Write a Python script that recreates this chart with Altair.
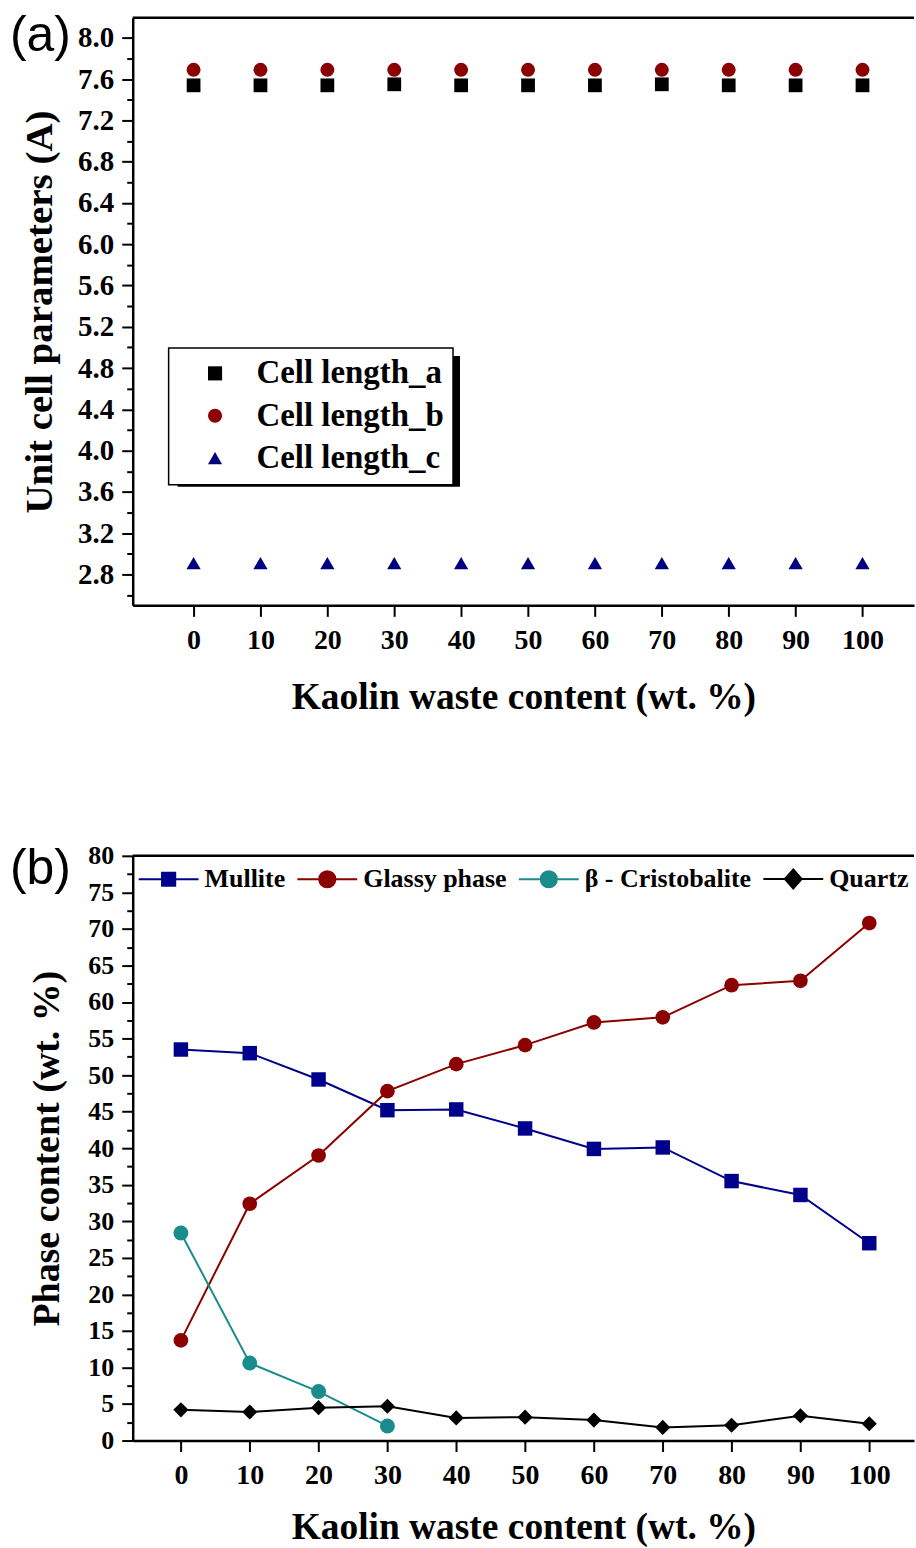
import altair as alt
import pandas as pd

# ---------------- data ----------------
content = [0, 10, 20, 30, 40, 50, 60, 70, 80, 90, 100]

# panel (a): unit cell parameters (A)
cell_a = [7.54, 7.54, 7.54, 7.55, 7.54, 7.54, 7.54, 7.55, 7.54, 7.54, 7.54]
cell_b = [7.69, 7.69, 7.69, 7.69, 7.69, 7.69, 7.69, 7.69, 7.69, 7.69, 7.69]
cell_c = [2.91, 2.91, 2.91, 2.91, 2.91, 2.91, 2.91, 2.91, 2.91, 2.91, 2.91]
top_names = ["Cell length_a", "Cell length_b", "Cell length_c"]
top_colors = ["#000000", "#8b0000", "#00007f"]
top_shapes = ["square", "circle", "triangle-up"]
top_sizes = [190, 230, 300]

# panel (b): phase content (wt. %)
mullite = [53.5, 53.0, 49.4, 45.2, 45.3, 42.7, 39.9, 40.1, 35.5, 33.6, 27.0]
glassy = [13.7, 32.4, 39.0, 47.8, 51.5, 54.1, 57.2, 57.9, 62.3, 62.9, 70.8]
cristo_x = [0, 10, 20, 30]
cristo = [28.4, 10.6, 6.7, 2.0]
quartz = [4.2, 3.9, 4.5, 4.7, 3.1, 3.2, 2.8, 1.8, 2.1, 3.4, 2.3]
bot_names = ["Mullite", "Glassy phase", "\u03b2 - Cristobalite", "Quartz"]
bot_colors = ["#00008b", "#8b0000", "#1a8c8c", "#000000"]
bot_shapes = ["square", "circle", "circle", "diamond"]
bot_sizes = [200, 320, 290, 540]

top_ticks = [round(2.6 + 0.2 * i, 1) for i in range(28)]
bot_ticks = [2.5 * i for i in range(33)]

SERIF = "Liberation Serif"
W = 783

top_df = pd.DataFrame({
    "x": content * 3,
    "value": cell_a + cell_b + cell_c,
    "series": [top_names[0]] * 11 + [top_names[1]] * 11 + [top_names[2]] * 11,
})

bot_df = pd.DataFrame({
    "x": content + content + cristo_x + content,
    "value": mullite + glassy + cristo + quartz,
    "series": [bot_names[0]] * 11 + [bot_names[1]] * 11 + [bot_names[2]] * 4 + [bot_names[3]] * 11,
})

one = pd.DataFrame({"t": ["(a)"]})
one_b = pd.DataFrame({"t": ["(b)"]})


def x_axis(title_pad):
    return alt.Axis(values=content, title="Kaolin waste content (wt. %)", grid=False,
                    tickSize=11, labelPadding=10, titlePadding=title_pad, labelFontSize=28,
                    labelFlush=False, labelOverlap=False, titleFontSize=37.5, format="d")


# ---------------- panel (a) ----------------
xt = alt.X("x:Q", scale=alt.Scale(domain=[-9.1, 107.7], nice=False, zero=False), axis=x_axis(24))
yt = alt.Y("value:Q", scale=alt.Scale(domain=[2.5, 8.196], nice=False, zero=False),
           axis=alt.Axis(values=top_ticks, grid=False, title="Unit cell parameters (A)",
                         labelExpr="round(datum.value*10) % 4 === 0 ? format(datum.value, '.1f') : ''",
                         tickSize={"condition": {"test": "round(datum.value*10) % 4 === 0", "value": 11}, "value": 6},
                         labelFontSize=29, labelPadding=8, labelOverlap=False, labelFlush=False,
                         titleFontSize=39, titlePadding=18))

shadow_a = alt.Chart(one).mark_rect(color="black").encode(
    x=alt.value(45), x2=alt.value(328), y=alt.value(339), y2=alt.value(470))

pts_a = alt.Chart(top_df).mark_point(filled=True, opacity=1).encode(
    x=xt, y=yt,
    color=alt.Color("series:N", scale=alt.Scale(domain=top_names, range=top_colors),
                    legend=alt.Legend(title=None, orient="none", legendX=36, legendY=331,
                                      direction="vertical", fillColor="white", strokeColor="black",
                                      padding=9, labelFont=SERIF, labelFontSize=33,
                                      labelFontWeight="bold", labelColor="black", labelLimit=500,
                                      symbolSize=200, symbolOffset=21, labelOffset=25,
                                      rowPadding=8.5)),
    shape=alt.Shape("series:N", scale=alt.Scale(domain=top_names, range=top_shapes)),
    size=alt.Size("series:N", scale=alt.Scale(domain=top_names, range=top_sizes), legend=None),
)

frame_a = alt.Chart(one).mark_rule(color="black", strokeWidth=2.5).encode(
    x=alt.value(0), x2=alt.value(W), y=alt.value(0))

label_a = alt.Chart(one).mark_text(font="Liberation Sans", fontSize=50, align="left",
                                   baseline="alphabetic", color="black").encode(
    text="t:N", x=alt.value(-123), y=alt.value(33))

top = alt.layer(shadow_a, pts_a, frame_a, label_a).properties(width=W, height=589)

# ---------------- panel (b) ----------------
xb = alt.X("x:Q", scale=alt.Scale(domain=[-7.0, 106.5], nice=False, zero=False), axis=x_axis(19))
yb = alt.Y("value:Q", scale=alt.Scale(domain=[0, 80], nice=False, zero=False),
           axis=alt.Axis(values=bot_ticks, grid=False, title="Phase content (wt. %)",
                         labelExpr="datum.value % 5 === 0 ? format(datum.value, 'd') : ''",
                         tickSize={"condition": {"test": "datum.value % 5 === 0", "value": 11}, "value": 6},
                         labelFontSize=26, labelPadding=8, labelOverlap=False, labelFlush=False,
                         titleFontSize=38, titlePadding=21))

# legend glyphs: a line segment through the marker
P_SQ = "M-1,0H1M-0.22,-0.22H0.22V0.22H-0.22Z"
P_CI = "M-1,0H1M-0.27,0A0.27,0.27 0 1,1 0.27,0A0.27,0.27 0 1,1 -0.27,0Z"
P_DI = "M-1,0H1M0,-0.32L0.28,0L0,0.32L-0.28,0Z"
leg_paths = [P_SQ, P_CI, P_CI, P_DI]

leg_b_props = dict(title=None, orient="none", legendX=5, legendY=-8,
                   direction="horizontal", padding=0, labelFont=SERIF,
                   labelFontSize=26, labelFontWeight="bold", labelColor="black",
                   labelLimit=500, symbolSize=3600, labelOffset=5,
                   columnPadding=8, symbolStrokeWidth=2, symbolOpacity=1)

lines_b = alt.Chart(bot_df).mark_line(strokeWidth=2).encode(
    x=xb, y=yb,
    color=alt.Color("series:N", scale=alt.Scale(domain=bot_names, range=bot_colors), legend=None))

pts_b = alt.Chart(bot_df).mark_point(filled=True, opacity=1).encode(
    x=xb, y=yb,
    color=alt.Color("series:N", scale=alt.Scale(domain=bot_names, range=bot_colors), legend=None),
    shape=alt.Shape("series:N", scale=alt.Scale(domain=bot_names, range=bot_shapes), legend=None),
    size=alt.Size("series:N", scale=alt.Scale(domain=bot_names, range=bot_sizes), legend=None),
)

leg_b = alt.Chart(bot_df).transform_filter("false").mark_point(
    filled=True, opacity=1, strokeWidth=2).encode(
    x=xb, y=yb,
    color=alt.Color("series:N", scale=alt.Scale(domain=bot_names, range=bot_colors),
                    legend=alt.Legend(**leg_b_props)),
    stroke=alt.Stroke("series:N", scale=alt.Scale(domain=bot_names, range=bot_colors),
                      legend=alt.Legend(**leg_b_props)),
    shape=alt.Shape("series:N", scale=alt.Scale(domain=bot_names, range=leg_paths),
                    legend=alt.Legend(**leg_b_props)),
)

frame_b = alt.Chart(one).mark_rule(color="black", strokeWidth=2.5).encode(
    x=alt.value(0), x2=alt.value(W), y=alt.value(0))

label_b = alt.Chart(one_b).mark_text(font="Liberation Sans", fontSize=50, align="left",
                                     baseline="alphabetic", color="black").encode(
    text="t:N", x=alt.value(-123), y=alt.value(28))

bottom = alt.layer(lines_b, pts_b, leg_b, frame_b, label_b).resolve_scale(
    color="independent", shape="independent", stroke="independent"
).properties(width=W, height=586)

chart = alt.vconcat(top, bottom, spacing=127).properties(
    padding={"left": 10, "top": 9, "right": 0, "bottom": 0}
).configure_view(stroke=None).configure_axis(
    domainColor="black", domainWidth=2.5, tickColor="black", tickWidth=2,
    labelFont=SERIF, labelFontWeight="bold", labelColor="black",
    titleFont=SERIF, titleFontWeight="bold", titleColor="black",
).configure_legend(strokeWidth=1.5)

chart.save("out.html", embed_options={"renderer": "svg", "actions": False})
